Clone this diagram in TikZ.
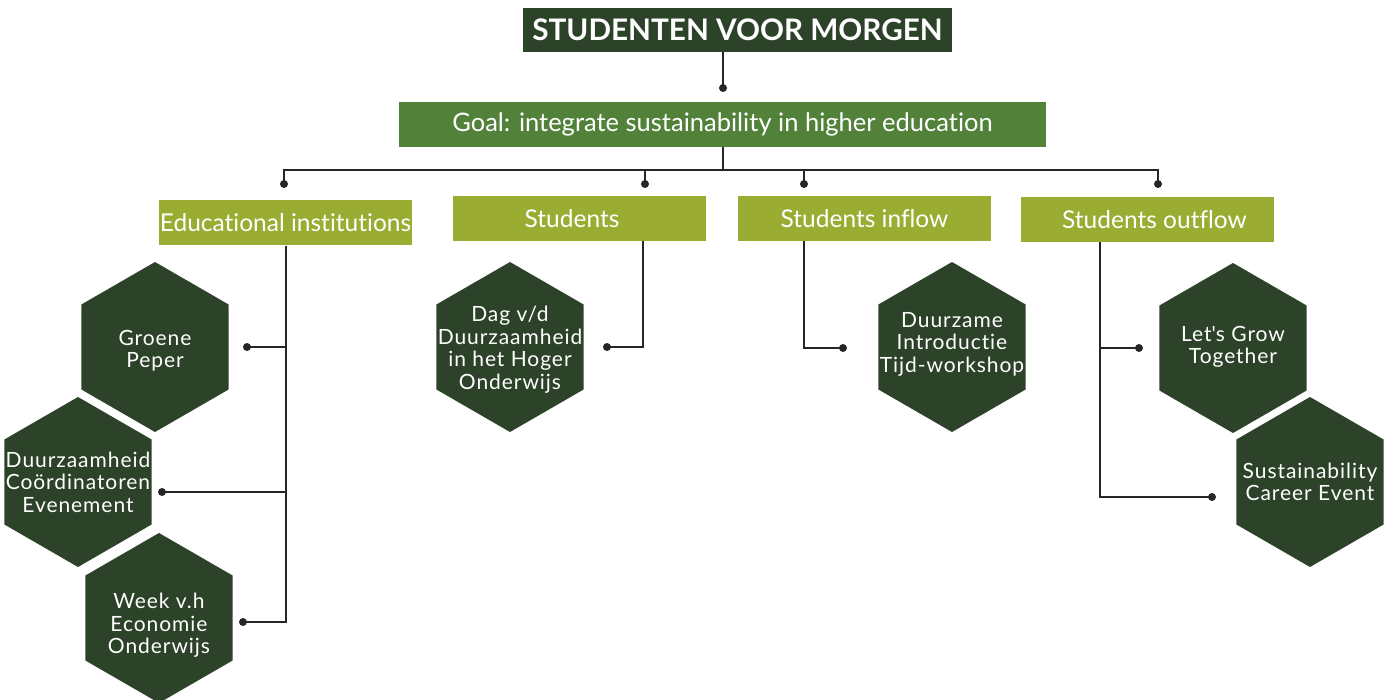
\documentclass[tikz,border=0pt]{standalone}
\usepackage{fontspec}
\setmainfont{Lato}[Ligatures=NoCommon]
\newfontfamily\hexfont{Lato}[LetterSpace=4.5,Ligatures=NoCommon]
\usetikzlibrary{calc}
\definecolor{darkgreen}{HTML}{2C4329}
\definecolor{goalgreen}{HTML}{52823A}
\definecolor{olive}{HTML}{9AAC32}
\definecolor{wire}{HTML}{262626}
\tikzstyle{titlebox}=[fill=darkgreen,text=white,font=\fontsize{29.7}{32}\selectfont\bfseries,minimum width=429pt,minimum height=44pt,inner sep=0pt]
\tikzstyle{goalbox}=[fill=goalgreen,text=white,font=\fontsize{25.5}{28}\selectfont,minimum width=647pt,minimum height=45pt,inner sep=0pt]
\tikzstyle{groupbox}=[fill=olive,text=white,font=\fontsize{24.5}{27}\selectfont,minimum width=253pt,minimum height=45pt,inner sep=0pt]
\tikzstyle{hextext}=[text=white,align=center,font=\hexfont\fontsize{21}{22.5}\selectfont,inner sep=0pt]
\tikzstyle{line}=[wire,line width=2pt]
\def\hexr{85}
\newcommand{\hexnode}[4][0]{% [text offset] name, centre, text
\fill[darkgreen] (#3) +(90:\hexr) -- +(150:\hexr) -- +(210:\hexr) -- +(270:\hexr) -- +(330:\hexr) -- +(30:\hexr) -- cycle;
\node[hextext] (#2) at ($(#3)+(0,#1)$) {#4};
}
\newcommand{\dotat}[1]{\fill[wire] (#1) circle (4pt);}

\begin{document}
\begin{tikzpicture}[x=1pt,y=-1pt]
\useasboundingbox (0,0) rectangle (1390,700);
% header
\node[titlebox] (title) at (737.5,30) {STUDENTEN VOOR MORGEN};
\node[goalbox] (goal) at (722.5,124.5) {Goal: integrate sustainability in higher education};
% groups
\node[groupbox] (edu) at (285.5,223) {Educational institutions};
\node[groupbox] (stud) at (579.5,218.5) {Students\kern15pt};
\node[groupbox] (inflow) at (864.5,218.5) {Students inflow};
\node[groupbox] (outflow) at (1147.5,219.5) {\kern14pt Students outflow};
% activities
\hexnode[3.5]{gp}{155,347}{Groene\\Peper}
\hexnode{dc}{78,482}{Duurzaamheid\\Coördinatoren\\Evenement}
\hexnode[7.5]{wk}{159,618}{Week v.h\\Economie\\Onderwijs}
\hexnode[2.5]{dag}{510,347}{Dag v/d\\Duurzaamheid\\in het Hoger\\Onderwijs}
\hexnode[-3]{dti}{952,347}{Duurzame\\Introductie\\Tijd-workshop}
\hexnode[-1]{lgt}{1233,348}{Let\textquotesingle s Grow\\Together}
\hexnode{sce}{1310,482}{Sustainability\\Career Event}
% free ends
\coordinate (c0) at (723,88);
\coordinate (bus) at (722.5,170);
\coordinate (d1) at (284,184);
\coordinate (d2) at (645,184);
\coordinate (d3) at (804,184);
\coordinate (d4) at (1158,184);
\coordinate (e1) at (247,347);
\coordinate (e2) at (162,492);
\coordinate (e3) at (243,622);
\coordinate (s1) at (607,347);
\coordinate (i1) at (843,348);
\coordinate (o1) at (1139,348);
\coordinate (o2) at (1212,497);
\coordinate (ot) at ([xshift=-47.5pt]outflow.south);
% connectors
\draw[line] (title.south -| c0) -- (c0);
\draw[line] (goal.south) -- (bus);
\draw[line] (d1) |- (bus) -| (d4);
\draw[line] (bus) -| (d2);
\draw[line] (bus) -| (d3);
\draw[line] (edu.south) |- (e3);
\draw[line] (e1) -- (e1 -| edu.south);
\draw[line] (e2) -- (e2 -| edu.south);
\draw[line] ([xshift=63.5pt]stud.south) |- (s1);
\draw[line] ([xshift=-60.5pt]inflow.south) |- (i1);
\draw[line] (ot) |- (o2);
\draw[line] (o1) -- (o1 -| ot);
\foreach \p in {c0,d1,d2,d3,d4,e1,e2,e3,s1,i1,o1,o2}{
  \dotat{\p}
}
\end{tikzpicture}
\end{document}
